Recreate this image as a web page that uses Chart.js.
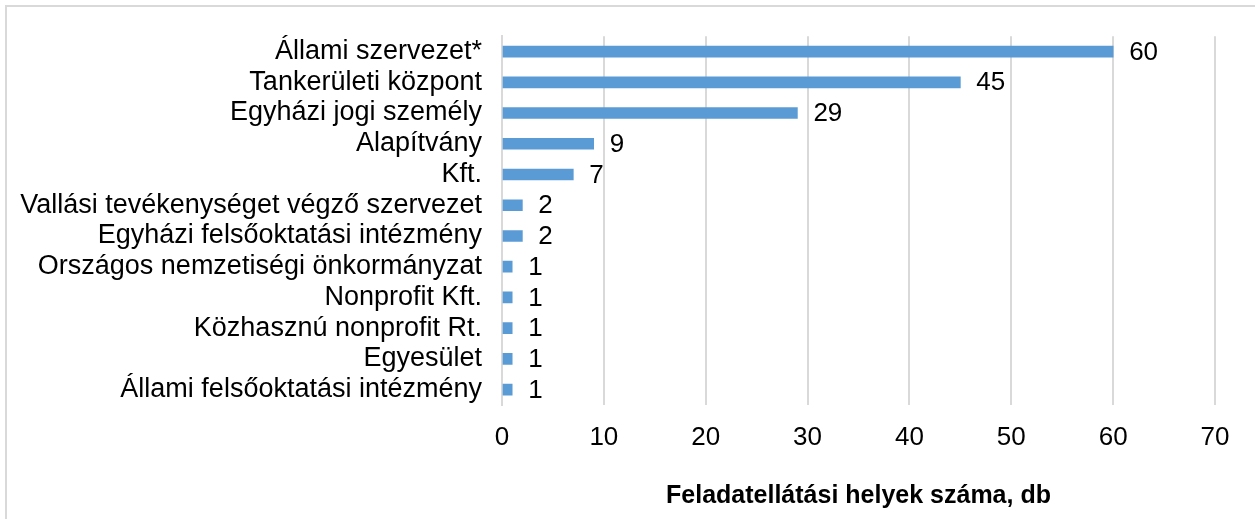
<!DOCTYPE html>
<html>
<head>
<meta charset="utf-8">
<script src="https://cdn.jsdelivr.net/npm/chart.js@4"></script>
<style>
  body { margin: 0; background: #fff; }
  #frame {
    position: absolute; left: 5px; top: 5px; right: 0; bottom: -10px;
    border-left: 2px solid #d9d9d9; border-top: 2px solid #d9d9d9;
  }
  #c { position: absolute; left: 0; top: 0; }
</style>
</head>
<body>
<div id="frame"></div>
<canvas id="c" width="1255" height="519"></canvas>
<script>
const categories = [
  "Állami szervezet*",
  "Tankerületi központ",
  "Egyházi jogi személy",
  "Alapítvány",
  "Kft.",
  "Vallási tevékenységet végző szervezet",
  "Egyházi felsőoktatási intézmény",
  "Országos nemzetiségi önkormányzat",
  "Nonprofit Kft.",
  "Közhasznú nonprofit Rt.",
  "Egyesület",
  "Állami felsőoktatási intézmény"
];
const counts = [60, 45, 29, 9, 7, 2, 2, 1, 1, 1, 1, 1];
const axisTitle = "Feladatellátási helyek száma, db";

const FONT = "'Liberation Sans', Arial, sans-serif";

// value labels right of each bar
const barLabels = {
  id: "barLabels",
  afterDatasetsDraw(chart) {
    const ctx = chart.ctx;
    const meta = chart.getDatasetMeta(0);
    ctx.save();
    ctx.font = "26px " + FONT;
    ctx.fillStyle = "#000";
    ctx.textAlign = "left";
    ctx.textBaseline = "middle";
    meta.data.forEach((bar, i) => {
      ctx.fillText(String(counts[i]), bar.x + 16, bar.y + 1);
    });
    ctx.restore();
  }
};

new Chart(document.getElementById("c"), {
  type: "bar",
  data: {
    labels: categories,
    datasets: [{
      data: counts,
      backgroundColor: "#5b9bd5",
      barThickness: 11
    }]
  },
  options: {
    indexAxis: "y",
    responsive: false,
    animation: false,
    layout: { padding: { top: 35, right: 40, left: 0, bottom: 0 } },
    plugins: { legend: { display: false }, tooltip: { enabled: false } },
    scales: {
      y: {
        grid: { display: false, drawTicks: false },
        border: { color: "#d9d9d9", width: 2 },
        ticks: { color: "#000", font: { family: FONT, size: 27 }, padding: 20, autoSkip: false },
        afterFit(s) { s.width = 502; }
      },
      x: {
        min: 0, max: 70,
        grid: { color: "#d9d9d9", lineWidth: 2, drawTicks: false },
        border: { display: false },
        ticks: { stepSize: 10, color: "#000", font: { family: FONT, size: 26 }, padding: 17 },
        title: {
          display: true, text: axisTitle, color: "#000",
          font: { family: FONT, size: 25, weight: "bold" },
          padding: { top: 0, bottom: 8 }
        },
        afterFit(s) { s.height = 114; }
      }
    }
  },
  plugins: [barLabels]
});
</script>
</body>
</html>
